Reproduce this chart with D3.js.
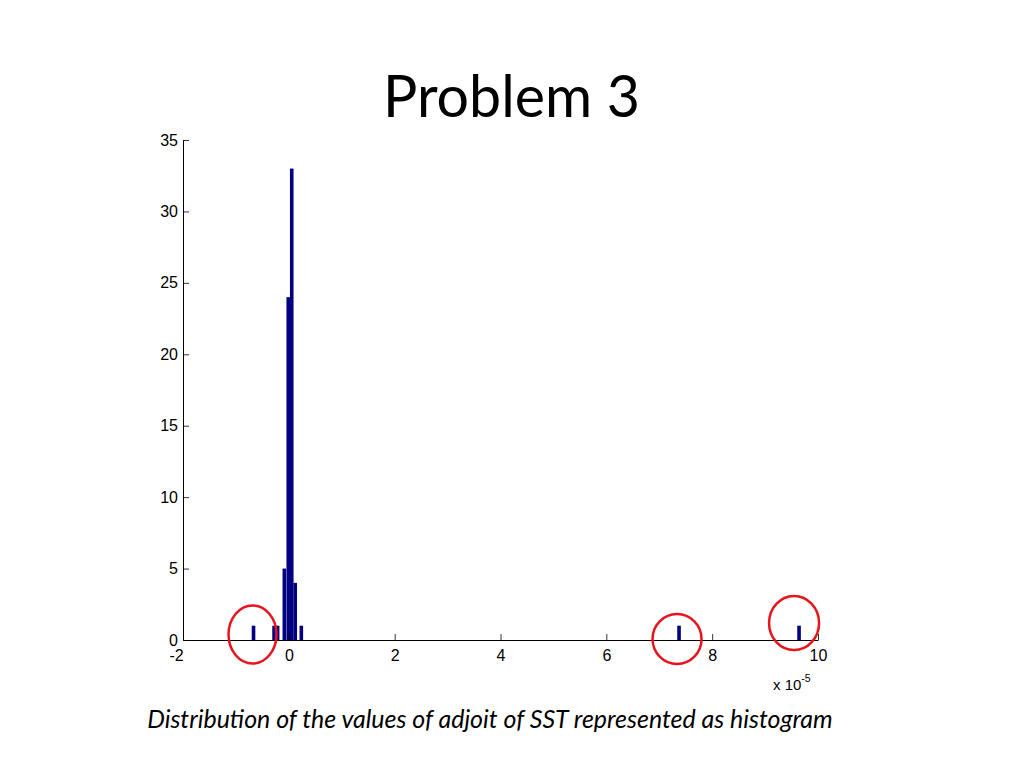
<!DOCTYPE html>
<html>
<head>
<meta charset="utf-8">
<script src="https://cdn.jsdelivr.net/npm/d3@7"></script>
<style>
  html, body { margin: 0; padding: 0; background: #fff; }
  svg { display: block; }
</style>
</head>
<body>
<svg id="chart" width="1024" height="768"></svg>
<script>
// ---- data (values in units of 1e-5) ----
const binCenters = [-0.667, -0.279, -0.212, -0.085, -0.011, 0.055, 0.121, 0.236, 7.374, 9.642];
const counts     = [1, 1, 1, 5, 24, 33, 4, 1, 1, 1];
const binWidth = 0.068;
const xTicks = [-2, 0, 2, 4, 6, 8, 10];
const yTicks = [0, 5, 10, 15, 20, 25, 30, 35];
const highlighted = [-0.667, 7.374, 9.642];   // circled outliers
const titleText = "Problem 3";
const captionText = "Distribution of the values of adjoit of SST represented as histogram";

(function () {
const svg = d3.select("#chart");
const mLeft = 183, mRight = 818, mTop = 140, mBottom = 640;

const x = d3.scaleLinear().domain([-2, 10]).range([mLeft, mRight]);
const y = d3.scaleLinear().domain([0, 35]).range([mBottom, mTop]);

function fitText(sel, targetWidth) {
  const base = 100;
  sel.attr("font-size", base);
  const w = sel.node().getComputedTextLength();
  sel.attr("font-size", base * targetWidth / w);
}

// title
const title = svg.append("text")
  .attr("x", 511.5).attr("y", 117)
  .attr("text-anchor", "middle")
  .attr("font-family", "Lato, 'Open Sans', sans-serif")
  .attr("fill", "#000")
  .text(titleText);
fitText(title, 257);

// bars
svg.append("g").selectAll("rect")
  .data(binCenters.map((c, i) => ({c, n: counts[i]})))
  .join("rect")
  .attr("x", d => x(d.c - binWidth / 2))
  .attr("width", d => x(d.c + binWidth / 2) - x(d.c - binWidth / 2))
  .attr("y", d => y(d.n))
  .attr("height", d => y(0) - y(d.n))
  .attr("fill", "#000080");

// axes
const fmt = d => String(d);
const xAxis = d3.axisBottom(x).tickValues(xTicks).tickFormat(fmt)
  .tickSizeInner(-6).tickSizeOuter(0).tickPadding(10);
const yAxis = d3.axisLeft(y).tickValues(yTicks).tickFormat(fmt)
  .tickSizeInner(-6).tickSizeOuter(0).tickPadding(5);

const gx = svg.append("g").attr("transform", `translate(0,${mBottom})`).call(xAxis);
const gy = svg.append("g").attr("transform", `translate(${mLeft},0)`).call(yAxis);

[gx, gy].forEach(g => {
  g.selectAll("text")
    .attr("font-family", "'Liberation Sans', Arial, sans-serif")
    .attr("font-size", 16)
    .attr("fill", "#000");
  g.selectAll("line").attr("stroke", "#000").attr("stroke-width", 0.8);
  g.select(".domain").attr("stroke", "#000").attr("stroke-width", 1);
});
gx.selectAll(".tick").filter(d => d < 0).select("text").attr("dx", -7);

// exponent label
const expo = svg.append("text")
  .attr("x", 773).attr("y", 690)
  .attr("font-family", "'Liberation Sans', Arial, sans-serif")
  .attr("font-size", 15)
  .attr("fill", "#000");
expo.append("tspan").text("x 10");
expo.append("tspan").attr("font-size", 10.5).attr("dy", -8).text("-5");

// red circles
const circleShape = [
  {rx: 24, ry: 29, cy: 634.5, dx: -1},
  {rx: 24.5, ry: 25, cy: 639, dx: -2},
  {rx: 25, ry: 27, cy: 623, dx: -5}
];
svg.append("g").selectAll("ellipse")
  .data(highlighted.map((v, i) => ({v, s: circleShape[i]})))
  .join("ellipse")
  .attr("cx", d => x(d.v) + d.s.dx)
  .attr("cy", d => d.s.cy)
  .attr("rx", d => d.s.rx)
  .attr("ry", d => d.s.ry)
  .attr("fill", "none")
  .attr("stroke", "#e8141b")
  .attr("stroke-width", 2.5);

// caption
const caption = svg.append("text")
  .attr("x", 490).attr("y", 728)
  .attr("text-anchor", "middle")
  .attr("font-family", "Lato, 'Open Sans', sans-serif")
  .attr("font-style", "italic")
  .attr("fill", "#000")
  .text(captionText);
fitText(caption, 686);
})();
</script>
</body>
</html>
